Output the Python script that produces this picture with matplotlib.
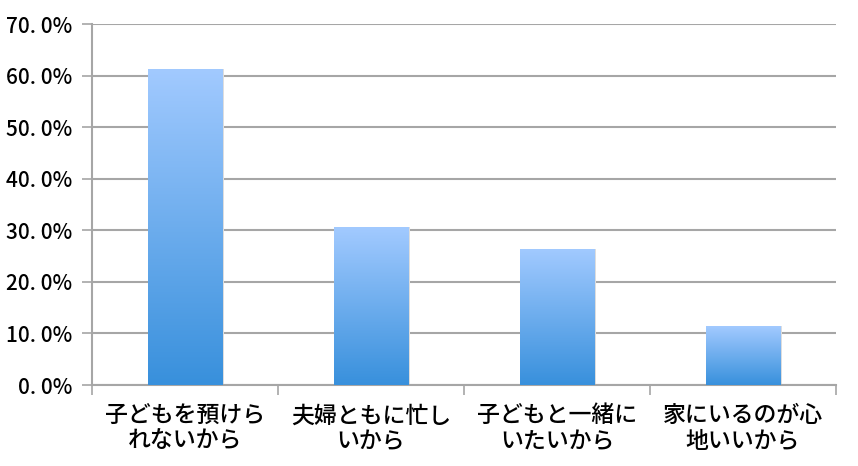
import numpy as np
import matplotlib
matplotlib.use("Agg")
import matplotlib.pyplot as plt
from matplotlib.colors import LinearSegmentedColormap

plt.rcParams['font.family'] = ['Noto Sans CJK JP', 'DejaVu Sans']

categories = ["子どもを預けら\nれないから", "夫婦ともに忙し\nいから", "子どもと一緒に\nいたいから", "家にいるのが心\n地いいから"]
values = [61.3, 30.6, 26.4, 11.4]
yticks = [0, 10, 20, 30, 40, 50, 60, 70]
ytick_labels = ["0. 0%", "10. 0%", "20. 0%", "30. 0%", "40. 0%", "50. 0%", "60. 0%", "70. 0%"]

fig = plt.figure(figsize=(8.58, 4.66), dpi=100)
ax = fig.add_axes([92/858, 81/466, 744/858, 361/466])

x = np.arange(len(categories))
bars = ax.bar(x, values, width=0.4, color='none', zorder=3)

cmap = LinearSegmentedColormap.from_list('g', ['#3890DC', '#A2CAFF'])
grad = np.linspace(0, 1, 256).reshape(-1, 1)
for p in bars.patches:
    x0, y0 = p.get_x(), p.get_y()
    w, h = p.get_width(), p.get_height()
    im = ax.imshow(grad, cmap=cmap, origin='lower', aspect='auto',
                   extent=[x0, x0 + w, y0, y0 + h], zorder=3, interpolation='bilinear')
    im.set_clip_path(p)
    # subtle shadow
    ax.bar(x0 + w / 2 + 0.006, h, width=w + 0.01, color='#dddddd', zorder=2)

ax.set_xlim(-0.5, len(categories) - 0.5)
ax.set_ylim(0, 70)
ax.set_yticks(yticks)
ax.set_yticklabels(ytick_labels, fontsize=15, fontweight='medium')
ax.yaxis.grid(True, color='#A6A6A6', linewidth=1.5, zorder=0)
ax.set_axisbelow(True)

ax.set_xticks(x)
ax.set_xticklabels(categories, fontsize=16.5, linespacing=1.15, fontweight='medium')
ax.tick_params(axis='x', length=0, pad=14)
ax.set_xticks(np.arange(-0.5, len(categories)), minor=True)
ax.tick_params(axis='x', which='minor', length=7, width=1.2, color='#A6A6A6')
ax.tick_params(axis='y', length=7, width=1.2, color='#A6A6A6', pad=7)

for s in ['top', 'right']:
    ax.spines[s].set_visible(False)
for s in ['left', 'bottom']:
    ax.spines[s].set_color('#A6A6A6')
    ax.spines[s].set_linewidth(1.5)

fig.savefig('out.png', dpi=100)
